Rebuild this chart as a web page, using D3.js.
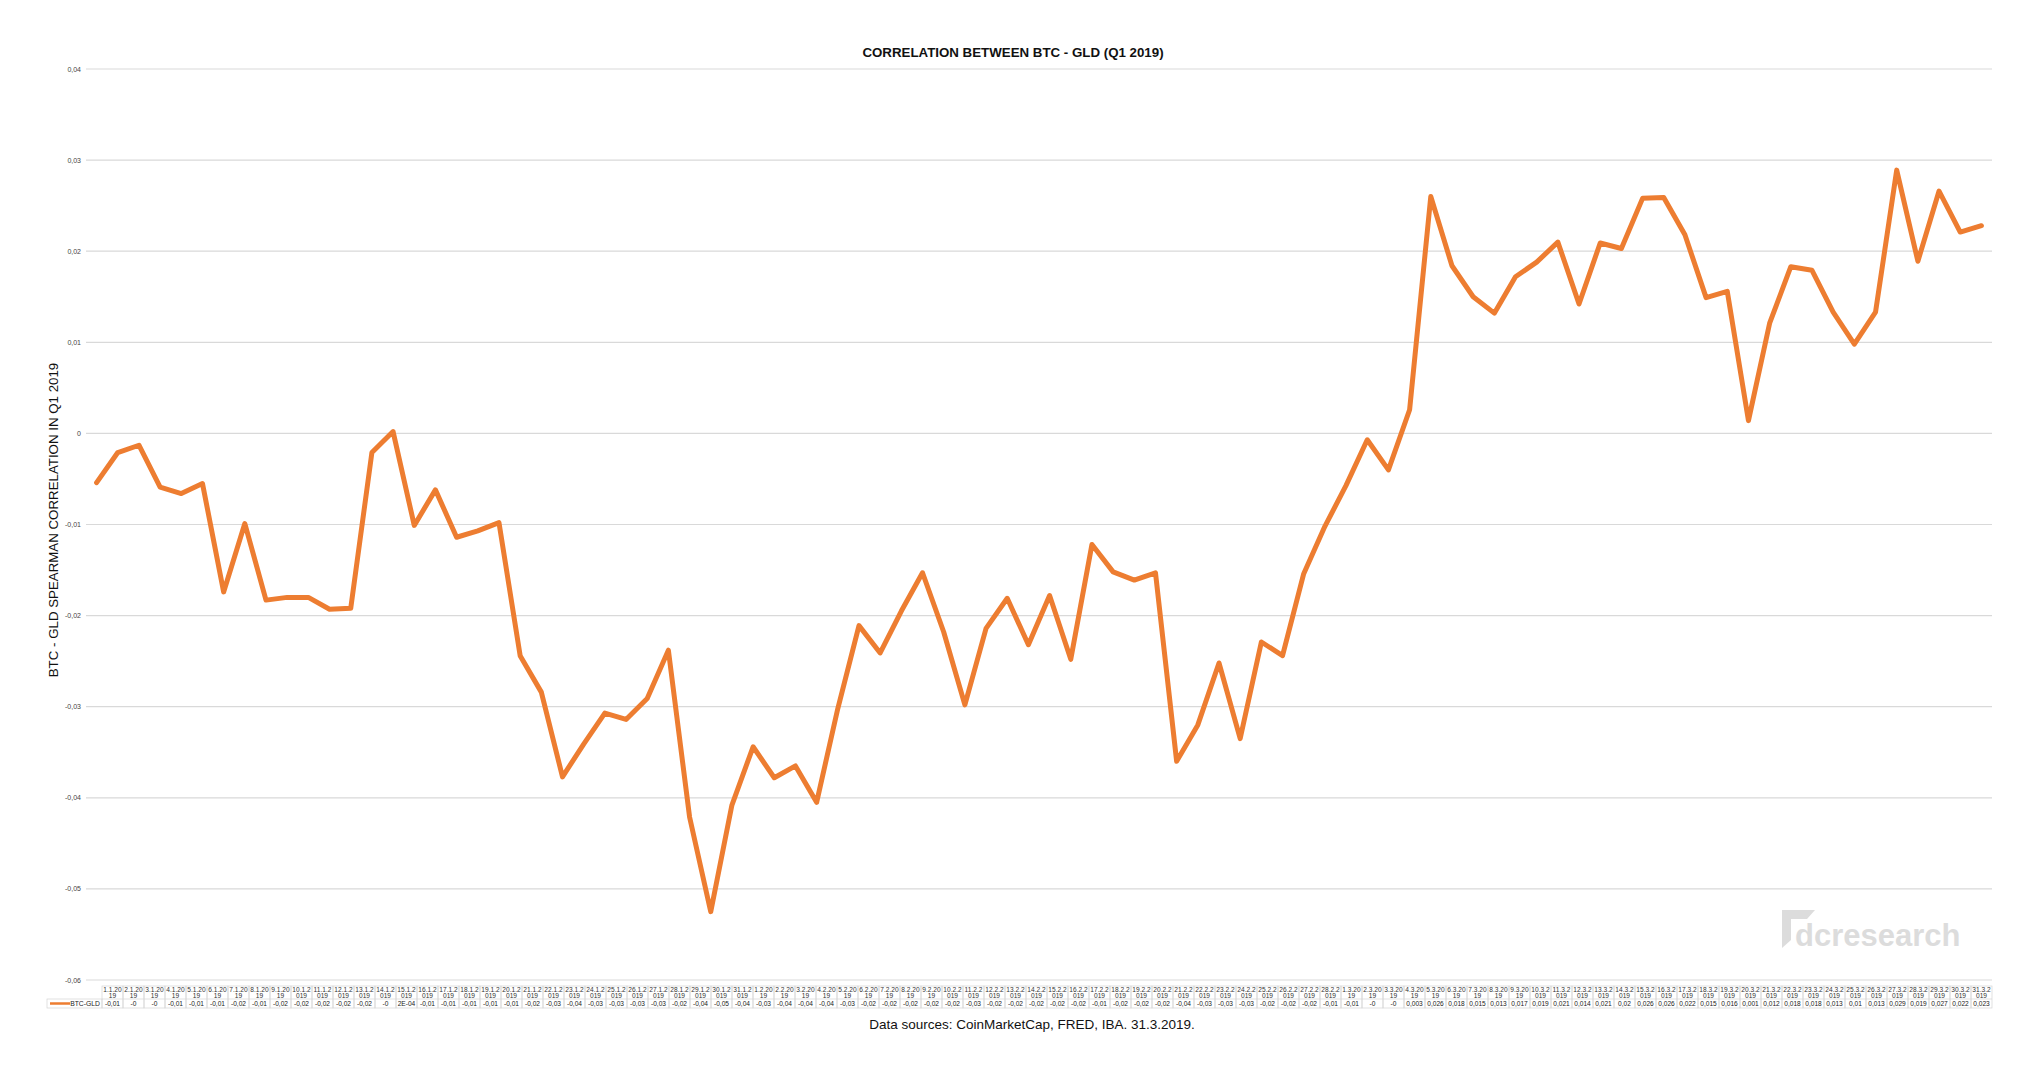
<!DOCTYPE html>
<html>
<head>
<meta charset="utf-8">
<script src="https://cdn.jsdelivr.net/npm/d3@7"></script>
<style>
html,body{margin:0;padding:0;background:#fff;}
svg{display:block;font-family:"Liberation Sans",Arial,Helvetica,sans-serif;}
</style>
</head>
<body>
<svg id="chart" width="2040" height="1080"></svg>
<script>
const title = "CORRELATION BETWEEN BTC - GLD (Q1 2019)";
const yAxisTitle = "BTC - GLD SPEARMAN CORRELATION IN Q1 2019";
const footer = "Data sources: CoinMarketCap, FRED, IBA. 31.3.2019.";
const seriesName = "BTC-GLD";
const watermark = "dcresearch";

const dates = [
 "1.1.2019","2.1.2019","3.1.2019","4.1.2019","5.1.2019","6.1.2019","7.1.2019","8.1.2019","9.1.2019","10.1.2019",
 "11.1.2019","12.1.2019","13.1.2019","14.1.2019","15.1.2019","16.1.2019","17.1.2019","18.1.2019","19.1.2019","20.1.2019",
 "21.1.2019","22.1.2019","23.1.2019","24.1.2019","25.1.2019","26.1.2019","27.1.2019","28.1.2019","29.1.2019","30.1.2019","31.1.2019",
 "1.2.2019","2.2.2019","3.2.2019","4.2.2019","5.2.2019","6.2.2019","7.2.2019","8.2.2019","9.2.2019","10.2.2019",
 "11.2.2019","12.2.2019","13.2.2019","14.2.2019","15.2.2019","16.2.2019","17.2.2019","18.2.2019","19.2.2019","20.2.2019",
 "21.2.2019","22.2.2019","23.2.2019","24.2.2019","25.2.2019","26.2.2019","27.2.2019","28.2.2019",
 "1.3.2019","2.3.2019","3.3.2019","4.3.2019","5.3.2019","6.3.2019","7.3.2019","8.3.2019","9.3.2019","10.3.2019",
 "11.3.2019","12.3.2019","13.3.2019","14.3.2019","15.3.2019","16.3.2019","17.3.2019","18.3.2019","19.3.2019","20.3.2019",
 "21.3.2019","22.3.2019","23.3.2019","24.3.2019","25.3.2019","26.3.2019","27.3.2019","28.3.2019","29.3.2019","30.3.2019","31.3.2019"
];

const correlation = [
 -0.0054,-0.0021,-0.0013,-0.0059,-0.0066,-0.0055,-0.0174,-0.0099,-0.0183,-0.0180,
 -0.0180,-0.0193,-0.0192,-0.0021,0.0002,-0.0101,-0.0062,-0.0114,-0.0107,-0.0098,
 -0.0244,-0.0284,-0.0377,-0.0341,-0.0307,-0.0314,-0.0291,-0.0238,-0.0421,-0.0525,-0.0408,
 -0.0344,-0.0378,-0.0365,-0.0405,-0.0302,-0.0211,-0.0241,-0.0195,-0.0153,-0.0218,
 -0.0298,-0.0214,-0.0181,-0.0232,-0.0178,-0.0248,-0.0122,-0.0152,-0.0161,-0.0153,
 -0.0360,-0.0320,-0.0252,-0.0335,-0.0229,-0.0244,-0.0154,-0.0102,
 -0.0057,-0.0007,-0.0040,0.0026,0.0260,0.0184,0.0150,0.0132,0.0172,0.0188,
 0.0210,0.0142,0.0209,0.0203,0.0258,0.0259,0.0218,0.0149,0.0156,0.0014,
 0.0121,0.0183,0.0179,0.0133,0.0098,0.0133,0.0289,0.0189,0.0266,0.0221,0.0228
];

const yTicks = [0.04,0.03,0.02,0.01,0,-0.01,-0.02,-0.03,-0.04,-0.05,-0.06];
const yTickLabels = ["0,04","0,03","0,02","0,01","0","-0,01","-0,02","-0,03","-0,04","-0,05","-0,06"];

const svg = d3.select("#chart");
const orange = "#ED7D31";

const x = d3.scalePoint().domain(dates).range([86,1992]).padding(0.5);
const y = d3.scaleLinear().domain([-0.06,0.04]).range([980,69]);

// gridlines
svg.append("g").selectAll("line").data(yTicks).join("line")
  .attr("x1",86).attr("x2",1992)
  .attr("y1",d=>y(d)).attr("y2",d=>y(d))
  .attr("stroke","#d9d9d9").attr("stroke-width",1.2);

svg.append("g").selectAll("text").data(yTicks).join("text")
  .attr("x",81).attr("y",d=>y(d)+2.5)
  .attr("text-anchor","end").attr("font-size",7).attr("fill","#444")
  .text((d,i)=>yTickLabels[i]);

// watermark
const wm = svg.append("g").attr("fill","#dcdcdc");
wm.append("path").attr("d","M1782,910 L1815,910 L1807,919 L1791,919 L1791,940 L1782,948 Z");
wm.append("text").attr("x",1795).attr("y",946).attr("font-size",31).attr("font-weight","bold").text(watermark);

// line
svg.append("path").datum(correlation)
  .attr("fill","none").attr("stroke",orange).attr("stroke-width",5)
  .attr("stroke-linejoin","round").attr("stroke-linecap","round")
  .attr("d",d3.line().x((d,i)=>x(dates[i])).y(d=>y(d)));

// title
svg.append("text").attr("x",1013).attr("y",57).attr("text-anchor","middle")
  .attr("font-size",13.3).attr("font-weight","bold").attr("fill","#111").text(title);

// y axis title
svg.append("text").attr("transform","translate(58,520) rotate(-90)")
  .attr("text-anchor","middle").attr("font-size",13.3).attr("fill","#111").text(yAxisTitle);

// data table
const col = d3.scaleBand().domain(dates).range([102,1992]);
const t = svg.append("g");
const rowTop = 986, rowMid = 999, rowBot = 1008;
function fmt(v){
  let s;
  if (v < 0) { s = v.toFixed(2); } else { s = v.toFixed(3); }
  if (s.indexOf(".")>=0) s = s.replace(/0+$/,"").replace(/\.$/,"");
  if ((s==="0"||s==="-0") && v>0) { const e = v.toExponential(0).toUpperCase().replace(/E([+-])(\d)$/,"E$10$2"); return e; }
  return s.replace(".",",");
}
t.selectAll("rect.c").data(dates).join("rect")
  .attr("x",d=>col(d)).attr("y",rowTop).attr("width",col.bandwidth()).attr("height",rowBot-rowTop)
  .attr("fill","none").attr("stroke","#d4d4d4").attr("stroke-width",0.7);
t.append("line").attr("x1",102).attr("x2",1992).attr("y1",rowMid).attr("y2",rowMid).attr("stroke","#d4d4d4").attr("stroke-width",0.7);
t.append("rect").attr("x",47).attr("y",rowMid).attr("width",55).attr("height",rowBot-rowMid)
  .attr("fill","none").attr("stroke","#d4d4d4").attr("stroke-width",0.7);
t.append("line").attr("x1",50).attr("x2",70).attr("y1",rowMid+4.5).attr("y2",rowMid+4.5).attr("stroke",orange).attr("stroke-width",2.5);
t.append("text").attr("x",100).attr("y",rowMid+6.8).attr("text-anchor","end").attr("font-size",6.8).attr("fill","#222").text(seriesName);

const hdr = t.selectAll("g.h").data(dates).join("g");
hdr.append("text").attr("x",d=>col(d)+col.bandwidth()/2).attr("y",rowTop+5.8)
  .attr("text-anchor","middle").attr("font-size",6.6).attr("fill","#333").text(d=>d.slice(0,6));
hdr.append("text").attr("x",d=>col(d)+col.bandwidth()/2).attr("y",rowTop+11.8)
  .attr("text-anchor","middle").attr("font-size",6.6).attr("fill","#333").text(d=>d.slice(6));
t.selectAll("text.v").data(correlation).join("text")
  .attr("x",(d,i)=>col(dates[i])+col.bandwidth()/2).attr("y",rowMid+6.9)
  .attr("text-anchor","middle").attr("font-size",6.6).attr("fill","#222").text(d=>fmt(d));

// footer
svg.append("text").attr("x",1032).attr("y",1029).attr("text-anchor","middle")
  .attr("font-size",13.5).attr("fill","#111").text(footer);
</script>
</body>
</html>
